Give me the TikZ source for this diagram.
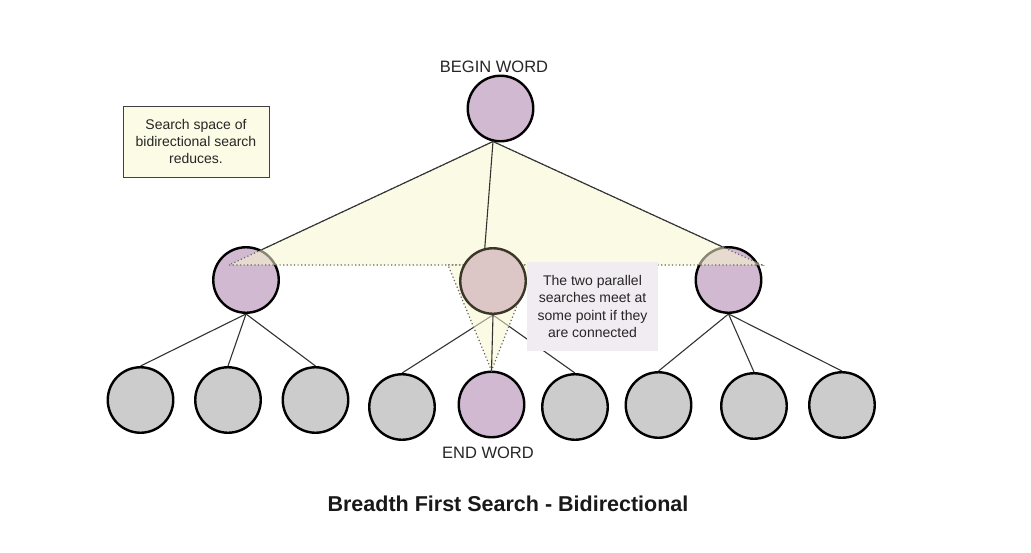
\documentclass[tikz,border=0pt]{standalone}
\usepackage{fontspec}
\setmainfont{Liberation Sans}
\usetikzlibrary{backgrounds,calc}
\definecolor{nodepurple}{HTML}{D2B9D2}
\definecolor{nodegrey}{HTML}{CCCCCC}
\definecolor{midblend}{HTML}{DCC6C6}
\definecolor{midborder}{HTML}{3A3628}
\definecolor{areayellow}{HTML}{F9F7CF}
\definecolor{noteyellow}{HTML}{FCFCE6}
\definecolor{notelilac}{HTML}{F1ECF1}
\definecolor{edgecol}{HTML}{333333}
\pgfdeclarelayer{paper}
\pgfsetlayers{paper,background,main}
\begin{document}
\begin{tikzpicture}[x=1pt,y=-1pt,
  circ/.style={circle, draw=black, line width=2.4pt, minimum size=65.5pt, inner sep=0pt},
  pnode/.style={circ, fill=nodepurple},
  gnode/.style={circ, fill=nodegrey},
  midnode/.style={circ, fill=midblend, draw=midborder},
  edge/.style={draw=edgecol, line width=1.1pt},
  area/.style={fill=areayellow, fill opacity=0.55, draw=black!60, draw opacity=1, line width=1.2pt, dash pattern=on 1.2pt off 2.4pt},
  lbl/.style={font=\fontsize{16.5}{20}\selectfont, text=black!85},
  notetext/.style={font=\fontsize{14}{17.4}\selectfont, align=center, text=black!85}
]
\begin{pgfonlayer}{paper}
\fill[white] (0,0) rectangle (1031,552);
\end{pgfonlayer}
\useasboundingbox (0,0) rectangle (1031,552);

% tree nodes
\node[pnode] (root) at (500.5,108.5) {};
\node[pnode] (lm) at (246,280) {};
\node[pnode] (rm) at (728.5,280) {};

\node[gnode] (l1) at (140.5,400) {};
\node[gnode] (l2) at (228,400) {};
\node[gnode] (l3) at (315.5,400) {};
\node[gnode] (l4) at (402,407) {};
\node[pnode] (end) at (491.5,404.5) {};
\node[gnode] (l6) at (575,407) {};
\node[gnode] (l7) at (658.5,405) {};
\node[gnode] (l8) at (754,406) {};
\node[gnode] (l9) at (842,405) {};

% corners of the search-space areas
\coordinate (apex) at (493,141.5);
\coordinate (L) at (229,265);
\coordinate (R) at (762,265);
\coordinate (ML) at (448,265);
\coordinate (MR) at (533,265);
% where the root edges meet the middle-level circles
\coordinate (Lhit) at ($(L)!36pt!(apex)$);
\coordinate (Rhit) at ($(apex)!252pt!(R)$);

% search areas (over the circles, translucent)
\path[area] (apex) -- (L) -- (R) -- cycle;
\path[area] (ML) -- (MR) -- (end.north) -- cycle;

% meeting node
\node[midnode] (mm) at (493,281) {};

% connectors
\draw[edge] (apex) -- (Lhit);
\draw[edge] (apex) -- (Rhit);
\draw[edge] (apex) -- (mm.104);
\draw[edge] (mm.south) -- (end.north);
\begin{scope}[on background layer]
\foreach \c in {l1,l2,l3} \draw[edge] (lm.south) -- (\c.north);
\foreach \c in {l4,l6} \draw[edge] (mm.south) -- (\c.north);
\foreach \c in {l7,l8,l9} \draw[edge] (rm.south) -- (\c.north);
\end{scope}

% labels
\node[lbl] (begintxt) at (494,67) {BEGIN WORD};
\node[lbl] (endtxt) at (488,453) {END WORD};

\node[draw=black!75, line width=1pt, fill=noteyellow, minimum width=146pt, minimum height=71pt, notetext] (note1) at (196,141.5)
  {Search space of\\bidirectional search\\reduces.};
\node[fill=notelilac, minimum width=131pt, minimum height=89pt, notetext] (note2) at (592.5,306.5)
  {The two parallel\\searches meet at\\some point if they\\are connected};

\node[font=\fontsize{21.5}{26}\selectfont\bfseries, text=black!90] (title) at (508,504)
  {Breadth First Search - Bidirectional};
\end{tikzpicture}
\end{document}
